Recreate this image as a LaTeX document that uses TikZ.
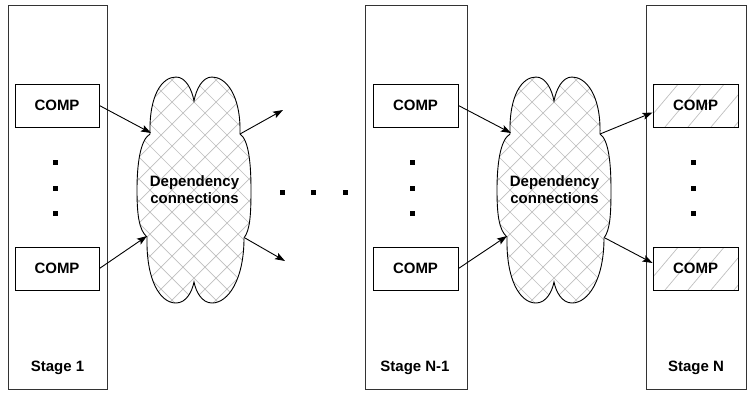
\documentclass[tikz,border=0pt]{standalone}
\usepackage{fontspec}
\setmainfont{Liberation Sans}
\usetikzlibrary{arrows.meta}
\newcommand\cloudoutline{(-44,-56) .. controls (-45,-95) and (-32,-113) .. (-18,-113)
      .. controls (-8,-113) and (-2,-100) .. (0,-89)
      .. controls (2,-100) and (8,-113) .. (18,-113)
      .. controls (32,-113) and (47,-95) .. (46,-56)
      .. controls (55,-50) and (57,-25) .. (57,0)
      .. controls (57,25) and (56,40) .. (50,48)
      .. controls (50,90) and (34,113) .. (18,113)
      .. controls (8,113) and (2,102) .. (0,92)
      .. controls (-2,102) and (-8,113) .. (-18,113)
      .. controls (-34,113) and (-48,90) .. (-47,47)
      .. controls (-55,40) and (-57,25) .. (-57,0)
      .. controls (-57,-25) and (-54,-50) .. (-44,-56) -- cycle}
\tikzset{
  lbl/.style={font=\fontsize{15}{17}\selectfont\bfseries, inner sep=0pt, align=center},
  stagebox/.style={draw=black!80, line width=0.9pt, minimum height=384pt, inner sep=0pt},
  compbox/.style={draw=black, line width=0.9pt, minimum width=84pt, minimum height=43pt, inner sep=0pt,
    font=\fontsize{15}{17}\selectfont\bfseries},
  hatchline/.style={draw=black!25, line width=0.7pt},
  hatchcomp/.style={compbox, path picture={
      \foreach \k in {-80,-57,...,120}
        \draw[hatchline] ([xshift=\k pt]path picture bounding box.south west) -- ++(70,-83);
    }},
  dotsq/.style={fill=black, minimum size=5pt, inner sep=0pt},
  conn/.style={line width=0.9pt, -{Stealth[length=10pt,width=7pt,inset=2pt]}},
  cloudpic/.pic={
    \fill[white] \cloudoutline;
    \begin{scope}
      \clip \cloudoutline;
      \foreach \k in {-176,-154,...,176} {
        \draw[hatchline] (\k-120,-120) -- (\k+120,120);
        \draw[hatchline] (\k-120,120) -- (\k+120,-120);
      }
    \end{scope}
    \draw[draw=black, line width=0.9pt] \cloudoutline;
    \coordinate (-ul) at (-43,-57);
    \coordinate (-ur) at (46,-56);
    \coordinate (-ll) at (-47,46);
    \coordinate (-lr) at (51,48);
  }
}
\begin{document}
\begin{tikzpicture}[x=1pt,y=-1pt]
\useasboundingbox (0,0) rectangle (747,392);

% stages
\node[stagebox, minimum width=99pt] (s1) at (57.5,197) {};
\node[stagebox, minimum width=102pt] (s2) at (416,197) {};
\node[stagebox, minimum width=100pt] (s3) at (696,197) {};
\node[lbl] (s1l) at (57.5,368) {Stage 1};
\node[lbl] (s2l) at (415,368) {Stage N-1};
\node[lbl] (s3l) at (696,368) {Stage N};

% comps
\node[compbox] (a1) at (57,105.5) {COMP};
\node[compbox] (a2) at (57,268.5) {COMP};
\node[compbox, minimum width=85pt] (b1) at (415.5,105.5) {COMP};
\node[compbox, minimum width=85pt] (b2) at (415.5,268.5) {COMP};
\node[hatchcomp, minimum width=85pt] (c1) at (695.5,105.5) {COMP};
\node[hatchcomp, minimum width=85pt] (c2) at (695.5,268.5) {COMP};

% dots
\foreach \y [count=\i] in {162,188,213} {
  \node[dotsq] (da\i) at (55,\y) {};
  \node[dotsq] (db\i) at (412,\y) {};
  \node[dotsq] (dc\i) at (693,\y) {};
}
\node[dotsq] (m1) at (282,192) {};
\node[dotsq] (m2) at (313,192) {};
\node[dotsq] (m3) at (345,192) {};

% clouds
\pic (k1) at (194,190) {cloudpic};
\pic (k2) at (554,190) {cloudpic};
\node[lbl] (k1t) at (194.5,190) {Dependency\\connections};
\node[lbl] (k2t) at (554.5,190) {Dependency\\connections};

% free ends
\coordinate (o1) at (283,110);
\coordinate (o2) at (285,261);

% connectors
\draw[conn] (a1.east) -- (k1-ul);
\draw[conn] (a2.east) -- (k1-ll);
\draw[conn] (k1-ur) -- (o1);
\draw[conn] (k1-lr) -- (o2);
\draw[conn] (b1.east) -- (k2-ul);
\draw[conn] (b2.east) -- (k2-ll);
\draw[conn] (k2-ur) -- ([yshift=-7pt]c1.west);
\draw[conn] (k2-lr) -- ([yshift=5.5pt]c2.west);
\end{tikzpicture}
\end{document}
